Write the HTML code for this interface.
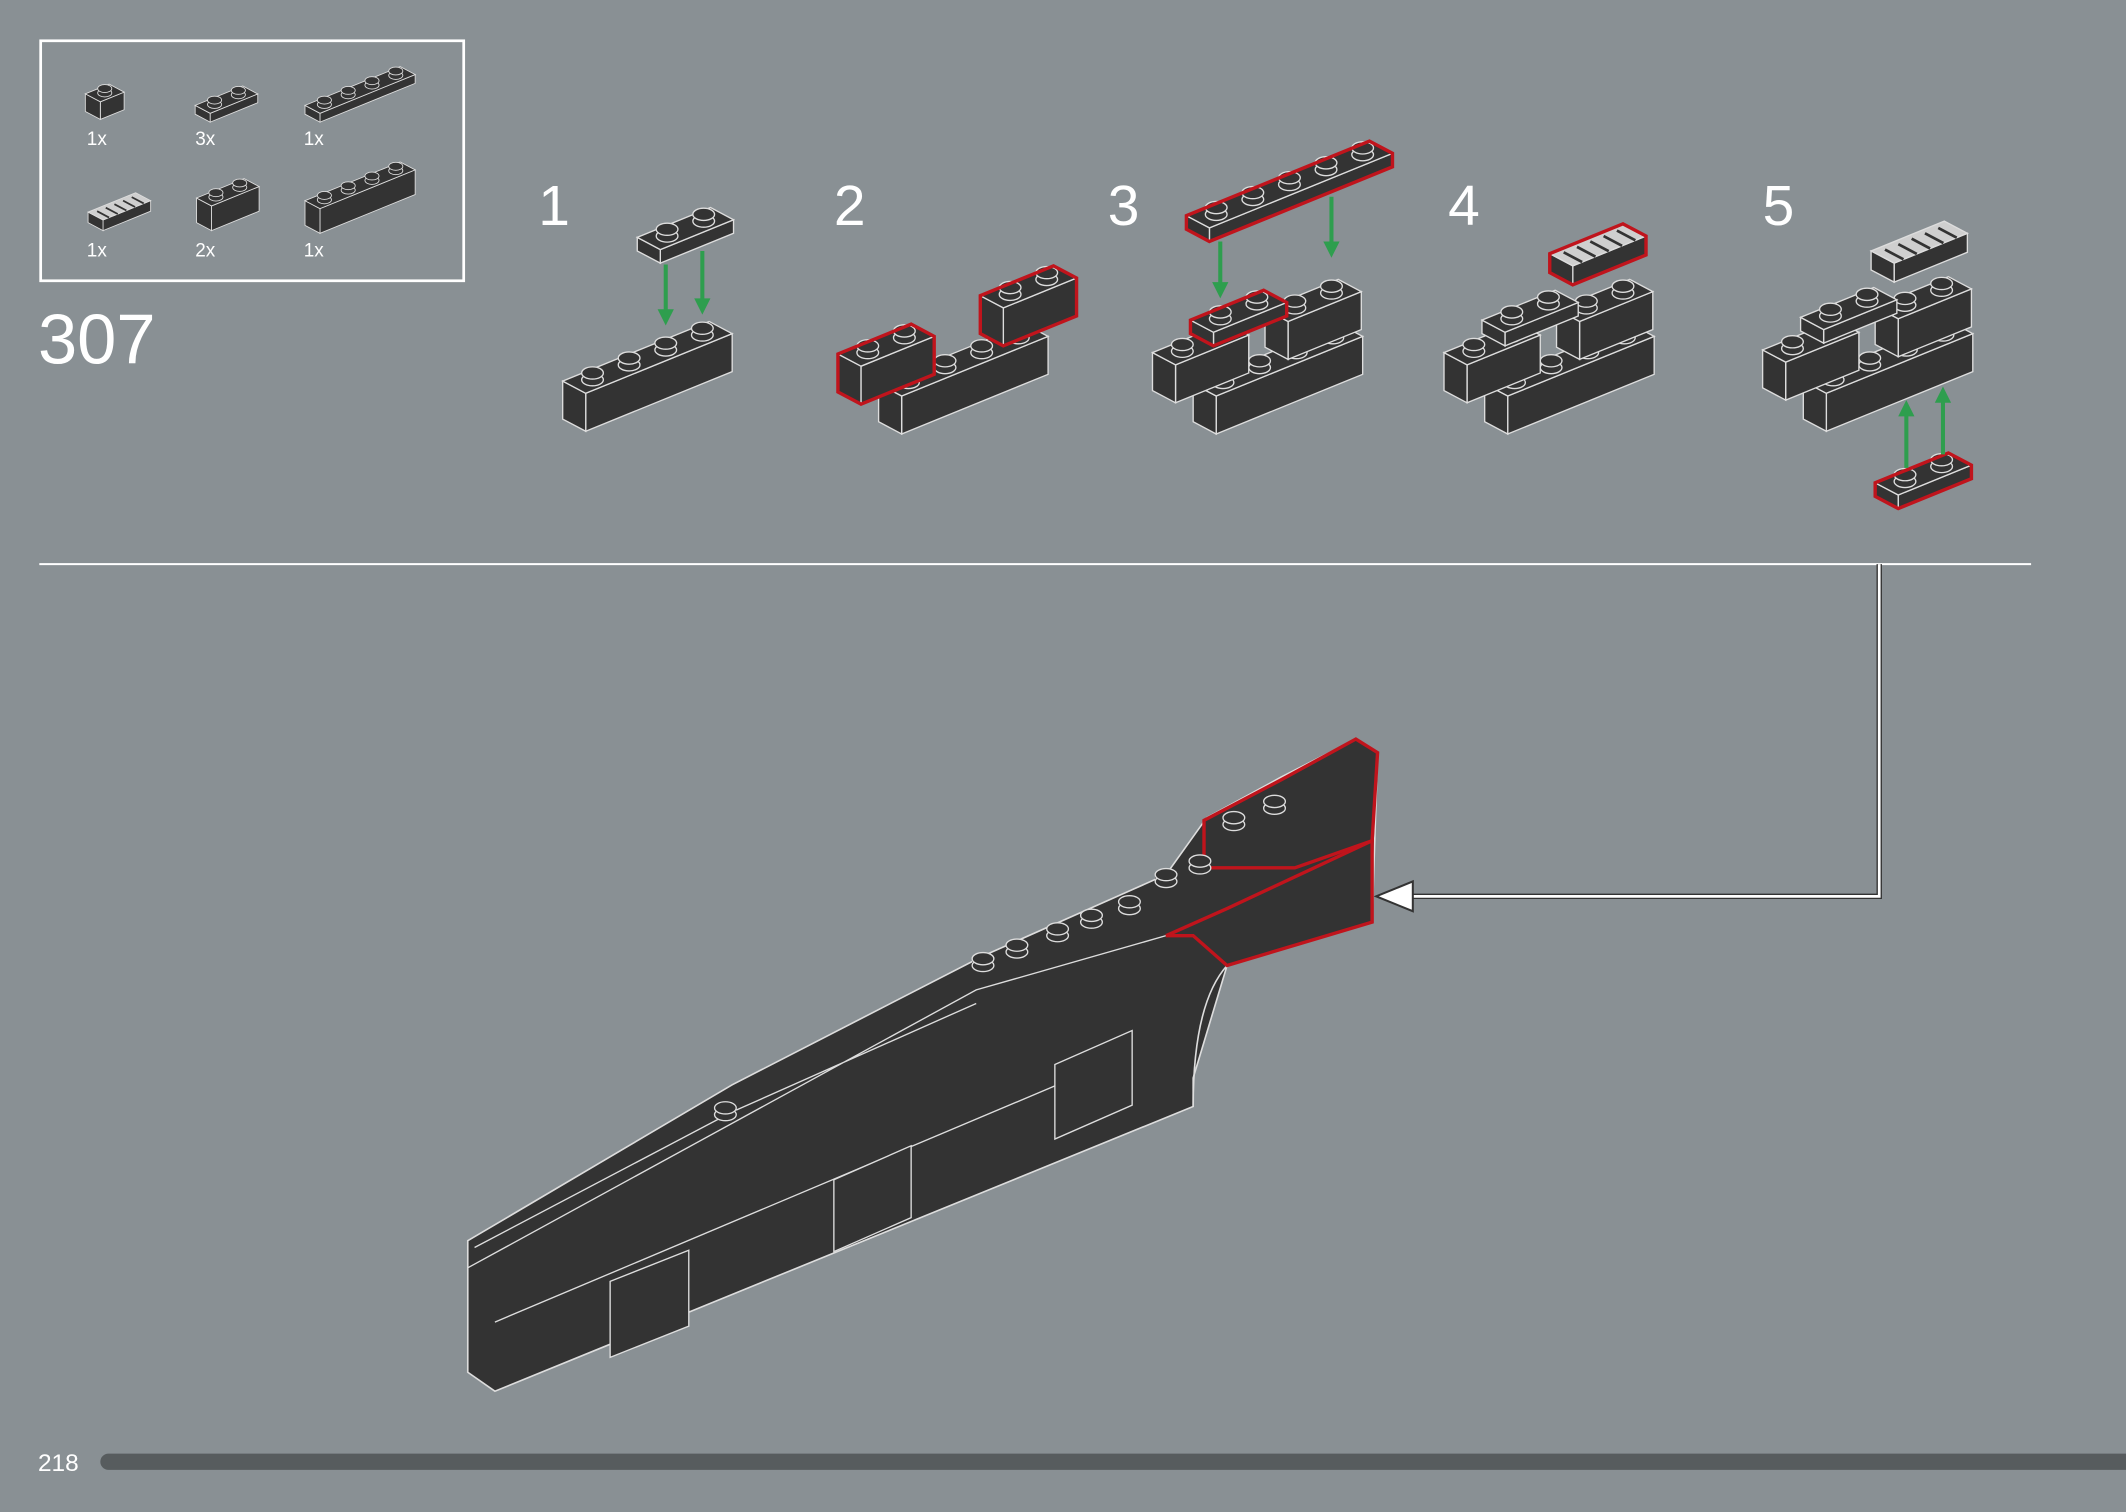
<!DOCTYPE html>
<html><head><meta charset="utf-8"><style>
html,body{margin:0;padding:0;background:#899094;}
svg{display:block}
text{font-family:"Liberation Sans",sans-serif;fill:#fff}
</style></head><body>
<svg id="s" width="2126" height="1512" viewBox="0 0 1568 1115" xmlns="http://www.w3.org/2000/svg">
<rect width="1568" height="1115" fill="#899094"/>
<rect x="30" y="30" width="312" height="177" fill="none" stroke="#fff" stroke-width="2"/>
<text x="64" y="107" font-size="14">1x</text>
<text x="144" y="107" font-size="14">3x</text>
<text x="224" y="107" font-size="14">1x</text>
<text x="64" y="189" font-size="14">1x</text>
<text x="144" y="189" font-size="14">2x</text>
<text x="224" y="189" font-size="14">1x</text>
<text x="28" y="268" font-size="52">307</text>
<text x="397" y="166" font-size="42">1</text>
<text x="615" y="166" font-size="42">2</text>
<text x="817" y="166" font-size="42">3</text>
<text x="1068" y="166" font-size="42">4</text>
<text x="1300" y="166" font-size="42">5</text>
<line x1="29" y1="416" x2="1498" y2="416" stroke="#fff" stroke-width="1.5"/>
<path d="M1386,416 V661 H1030" fill="none" stroke="#333" stroke-width="4"/>
<path d="M1386,416 V661 H1030" fill="none" stroke="#fff" stroke-width="2"/>
<polygon points="1015,661 1042,650 1042,672" fill="#fff" stroke="#333" stroke-width="1.5"/>
<rect x="74" y="1072" width="1500" height="12" rx="6" fill="#575c5e"/>
<text x="28" y="1085" font-size="18">218</text>
<!-- main model -->
<polygon points="345,915 345,1012 365,1026 880,816 880,795 905,712 1012,680 1016,555 1000,545 945,573 890,603 860,645 725,705 540,800" fill="#333" stroke="#ddd" stroke-width="1.2"/>
<path d="M905,712 Q880,740 880,816" fill="none" stroke="#ddd" stroke-width="1.2"/>
<path d="M345,935 L720,730 L860,690 M365,975 L780,800 M350,920 L540,820 L720,740" fill="none" stroke="#ddd" stroke-width="1"/>
<polygon points="778,785 835,760 835,815 778,840" fill="#333" stroke="#ddd"/>
<polygon points="615,870 672,845 672,898 615,923" fill="#333" stroke="#ddd"/>
<polygon points="450,945 508,922 508,978 450,1001" fill="#333" stroke="#ddd"/>
<polygon points="860,690 905,670 1012,620 1012,680 905,712 880,690" fill="none" stroke="#c0141c" stroke-width="2.5"/>
<polygon points="888,605 945,575 1000,545 1016,555 1012,620 955,640 888,640" fill="none" stroke="#c0141c" stroke-width="2.5"/>
<g id="gen"></g>
</svg>
<script>
var root=document.getElementById('gen'),g=root,ns='http://www.w3.org/2000/svg';
var u=[27,-11],v=[-17,-9];
function poly(pts,fill,stroke,sw){var p=document.createElementNS(ns,'polygon');p.setAttribute('points',pts.map(function(a){return a[0]+','+a[1]}).join(' '));p.setAttribute('fill',fill);p.setAttribute('stroke',stroke);p.setAttribute('stroke-width',sw||1);g.appendChild(p);}
function ell(cx,cy,rx,ry,f,s){var e=document.createElementNS(ns,'ellipse');e.setAttribute('cx',cx);e.setAttribute('cy',cy);e.setAttribute('rx',rx);e.setAttribute('ry',ry);e.setAttribute('fill',f);e.setAttribute('stroke',s);g.appendChild(e);}
function brick(px,py,L,W,h,red,slope){
 var P=[px,py],A=[px,py-h],B=[A[0]+L*u[0],A[1]+L*u[1]],C=[B[0]+W*v[0],B[1]+W*v[1]],D=[A[0]+W*v[0],A[1]+W*v[1]];
 var PL=[px+L*u[0],py+L*u[1]],PW=[px+W*v[0],py+W*v[1]];
 var top=slope?'#cfcfcf':'#333';
 poly([P,PL,B,A],'#333','#ddd');poly([P,PW,D,A],'#333','#ddd');poly([A,B,C,D],top,'#ddd');
 if(slope){for(var i=0;i<5;i++){var x=A[0]+(i+0.7)*L*u[0]/5.5,y=A[1]+(i+0.7)*L*u[1]/5.5;var l=document.createElementNS(ns,'line');l.setAttribute('x1',x);l.setAttribute('y1',y);l.setAttribute('x2',x+W*v[0]*0.8);l.setAttribute('y2',y+W*v[1]*0.8);l.setAttribute('stroke','#333');l.setAttribute('stroke-width',2);g.appendChild(l);}}
 else for(var j=W-1;j>=0;j--)for(var i=0;i<L;i++){var cx=A[0]+(i+.5)*u[0]+(j+.5)*v[0],cy=A[1]+(i+.5)*u[1]+(j+.5)*v[1];
  poly([[cx-8,cy],[cx+8,cy],[cx+8,cy-5],[cx-8,cy-5]],'#333','none');ell(cx,cy,8,4.5,'#333','#ddd');ell(cx,cy-5,8,4.5,'#333','#ddd');}
 if(red)poly([P,PL,B,C,D,PW],'none','#c0141c',2.5);
}
function part(tx,ty,f){var gg=document.createElementNS(ns,'g');gg.setAttribute('transform','translate('+tx+','+ty+') scale(0.65)');root.appendChild(gg);g=gg;f();g=root;}
function arrow(x,y1,y2){var d=y2>y1?1:-1;var l=document.createElementNS(ns,'line');l.setAttribute('x1',x);l.setAttribute('y1',y1);l.setAttribute('x2',x);l.setAttribute('y2',y2-d*10);l.setAttribute('stroke','#2e9e4e');l.setAttribute('stroke-width',3);g.appendChild(l);poly([[x-6,y2-d*12],[x+6,y2-d*12],[x,y2]],'#2e9e4e','none');}
// parts
part(74,88,function(){brick(0,0,1,1,20);});
part(155,90,function(){brick(0,0,2,1,10);});
part(236,90,function(){brick(0,0,4,1,10);});
part(76,170,function(){brick(0,0,2,1,12,0,1);});
part(156,170,function(){brick(0,0,2,1,28);});
part(236,172,function(){brick(0,0,4,1,28);});
// step1
brick(432,318,4,1,28);brick(487,194,2,1,10);arrow(491,195,240);arrow(518,185,232);
// step2
brick(665,320,4,1,28);brick(635,298,2,1,28,1);brick(740,255,2,1,28,1);
// step3
brick(897,320,4,1,28);brick(867,297,2,1,28);brick(950,265,2,1,28);brick(895,255,2,1,10,1);brick(892,178,5,1,10,1);arrow(900,178,220);arrow(982,145,190);
// step4
brick(1112,320,4,1,28);brick(1082,297,2,1,28);brick(1165,265,2,1,28);brick(1110,255,2,1,10);brick(1160,210,2,1,14,1,1);
// step5
brick(1347,318,4,1,28);brick(1317,295,2,1,28);brick(1400,263,2,1,28);brick(1345,253,2,1,10);brick(1397,208,2,1,14,0,1);brick(1400,375,2,1,10,1);arrow(1406,345,295);arrow(1433,335,285);
// main studs
[[725,712],[750,702],[780,690],[805,680],[833,670],[535,822],[910,608],[940,596],[885,640],[860,650]].forEach(function(c){poly([[c[0]-8,c[1]],[c[0]+8,c[1]],[c[0]+8,c[1]-5],[c[0]-8,c[1]-5]],'#333','none');ell(c[0],c[1],8,4.5,'#333','#ddd');ell(c[0],c[1]-5,8,4.5,'#333','#ddd');});
</script>
</body></html>
